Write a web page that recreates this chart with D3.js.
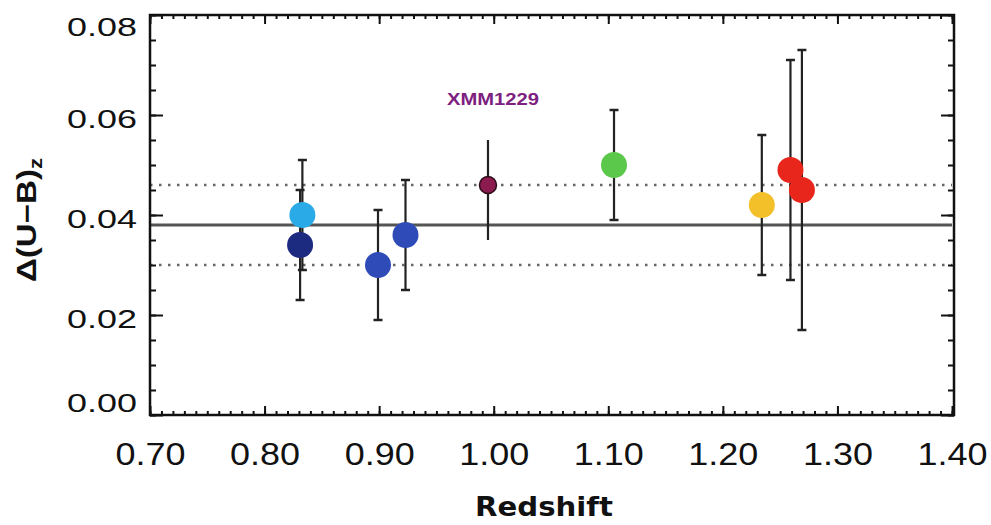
<!DOCTYPE html>
<html>
<head>
<meta charset="utf-8">
<script src="https://cdn.jsdelivr.net/npm/d3@7"></script>
<style>
  body { margin: 0; background: #fff; }
  svg { display: block; }
</style>
</head>
<body>
<svg id="chart" width="991" height="525"></svg>
<script>
// cluster measurements: redshift, offset and error range
const names    = ["lightblue", "navy", "blue1", "blue2", "XMM1229", "green", "yellow", "red1", "red2"];
const redshift = [0.833, 0.831, 0.899, 0.923, 0.995, 1.105, 1.234, 1.259, 1.269];
const delta    = [0.040, 0.034, 0.030, 0.036, 0.046, 0.050, 0.042, 0.049, 0.045];
const errLow   = [0.029, 0.023, 0.019, 0.025, 0.035, 0.039, 0.028, 0.027, 0.017];
const errHigh  = [0.051, 0.045, 0.041, 0.047, 0.055, 0.061, 0.056, 0.071, 0.073];
const colors   = ["#2aaae6", "#1f2a80", "#2f4cb8", "#2f4cb8", "#8c1d4f", "#5cc84c", "#f3c02c", "#e8281e", "#e8281e"];

const meanVal = 0.038, spread = 0.008;
const xTicks = [0.70, 0.80, 0.90, 1.00, 1.10, 1.20, 1.30, 1.40];
const yTicks = [0.00, 0.02, 0.04, 0.06, 0.08];

const data = names.map((n, i) => ({
  name: n, z: redshift[i], v: delta[i], lo: errLow[i], hi: errHigh[i], color: colors[i]
}));

const svg = d3.select("#chart");
const x = d3.scaleLinear().domain([0.70, 1.40]).range([150, 952]);
const y = d3.scaleLinear().domain([0, 0.08]).range([415, 15]);

const minorX = d3.range(0, 71).map(i => 0.70 + i * 0.01);
const minorY = d3.range(0, 17).map(i => i * 0.005);

// mean and scatter lines
svg.append("line")
  .attr("x1", x(0.70)).attr("x2", x(1.40))
  .attr("y1", y(meanVal)).attr("y2", y(meanVal))
  .attr("stroke", "#555").attr("stroke-width", 3);

[meanVal + spread, meanVal - spread].forEach(v => {
  svg.append("line")
    .attr("x1", x(0.70)).attr("x2", x(1.40))
    .attr("y1", y(v)).attr("y2", y(v))
    .attr("stroke", "#666").attr("stroke-width", 2.5)
    .attr("stroke-dasharray", "2.5,6.5");
});

// error bars
const bars = svg.append("g");
data.forEach(d => {
  bars.append("line")
    .attr("x1", x(d.z)).attr("x2", x(d.z))
    .attr("y1", y(d.lo)).attr("y2", y(d.hi))
    .attr("stroke", "#222").attr("stroke-width", 2.2);
  if (d.name !== "XMM1229") {
    [d.lo, d.hi].forEach(v => {
      bars.append("line")
        .attr("x1", x(d.z) - 4.5).attr("x2", x(d.z) + 4.5)
        .attr("y1", y(v)).attr("y2", y(v))
        .attr("stroke", "#222").attr("stroke-width", 2.5);
    });
  }
});

// soft edge for the markers
svg.append("defs").append("filter").attr("id", "soft")
  .append("feGaussianBlur").attr("stdDeviation", 0.7);

svg.append("g").selectAll("circle")
  .data(data)
  .join("circle")
  .attr("cx", d => x(d.z))
  .attr("cy", d => y(d.v))
  .attr("r", d => d.name === "XMM1229" ? 8.5 : 13)
  .attr("fill", d => d.color)
  .attr("stroke", d => d.name === "XMM1229" ? "#2a0a18" : "none")
  .attr("stroke-width", 1.5)
  .attr("filter", "url(#soft)");

svg.append("text")
  .attr("x", x(0.995) + 5).attr("y", 105)
  .attr("text-anchor", "middle")
  .attr("font-family", "Liberation Sans, Arial, sans-serif")
  .attr("font-weight", "bold").attr("font-size", 17)
  .attr("textLength", 92).attr("lengthAdjust", "spacingAndGlyphs")
  .attr("fill", "#7d2180")
  .text("XMM1229");

// frame
svg.append("rect")
  .attr("x", 150).attr("y", 15)
  .attr("width", 954 - 150).attr("height", 415 - 15)
  .attr("fill", "none").attr("stroke", "#111").attr("stroke-width", 2.5);

// ticks, inward on all four sides
const tickStyle = g => {
  g.select(".domain").remove();
  g.selectAll("line").attr("stroke", "#111").attr("stroke-width", 2);
};

svg.append("g").attr("transform", "translate(0,415)")
  .call(d3.axisBottom(x).tickValues(minorX).tickSize(-4).tickFormat(""))
  .call(tickStyle);
svg.append("g").attr("transform", "translate(0,15)")
  .call(d3.axisTop(x).tickValues(minorX).tickSize(-4).tickFormat(""))
  .call(tickStyle);
svg.append("g").attr("transform", "translate(150,0)")
  .call(d3.axisLeft(y).tickValues(minorY).tickSize(-6).tickFormat(""))
  .call(tickStyle);
svg.append("g").attr("transform", "translate(954,0)")
  .call(d3.axisRight(y).tickValues(minorY).tickSize(-6).tickFormat(""))
  .call(tickStyle);
svg.append("g").attr("transform", "translate(0,15)")
  .call(d3.axisTop(x).tickValues(xTicks).tickSize(-9).tickFormat(""))
  .call(tickStyle);
svg.append("g").attr("transform", "translate(954,0)")
  .call(d3.axisRight(y).tickValues(yTicks).tickSize(-13).tickFormat(""))
  .call(tickStyle);

// bottom axis with labels
svg.append("g").attr("transform", "translate(0,415)")
  .call(d3.axisBottom(x).tickValues(xTicks).tickSize(-9).tickPadding(27).tickFormat(d3.format(".2f")))
  .call(tickStyle)
  .call(g => g.selectAll("text")
    .attr("font-family", "Liberation Sans, Arial, sans-serif")
    .attr("font-size", 32).attr("fill", "#111")
    .attr("textLength", 70).attr("lengthAdjust", "spacingAndGlyphs"));

// left axis with labels (end labels pulled inside the frame)
const yShift = v => v === 0.08 ? 12 : v === 0 ? -12 : 4;
svg.append("g").attr("transform", "translate(150,0)")
  .call(d3.axisLeft(y).tickValues(yTicks).tickSize(-13).tickPadding(13).tickFormat(d3.format(".2f")))
  .call(tickStyle)
  .call(g => g.selectAll("text")
    .attr("font-family", "Liberation Sans, Arial, sans-serif")
    .attr("font-size", 26).attr("fill", "#111")
    .attr("textLength", 70).attr("lengthAdjust", "spacingAndGlyphs")
    .attr("y", d => yShift(d)));

// axis titles
svg.append("text")
  .attr("x", 544).attr("y", 516)
  .attr("text-anchor", "middle")
  .attr("font-family", "Comic Sans MS, DejaVu Sans, sans-serif")
  .attr("font-weight", "bold").attr("font-size", 27)
  .attr("textLength", 138).attr("lengthAdjust", "spacingAndGlyphs")
  .attr("fill", "#111")
  .text("Redshift");

const ylab = svg.append("text")
  .attr("transform", "translate(36,220) rotate(-90)")
  .attr("text-anchor", "middle")
  .attr("font-family", "Liberation Sans, Arial, sans-serif")
  .attr("font-weight", "bold").attr("font-size", 27)
  .attr("textLength", 124).attr("lengthAdjust", "spacingAndGlyphs")
  .attr("fill", "#111");
ylab.append("tspan").text("Δ(U−B)");
ylab.append("tspan").attr("font-size", 18).attr("dy", 6).text("z");
</script>
</body>
</html>
